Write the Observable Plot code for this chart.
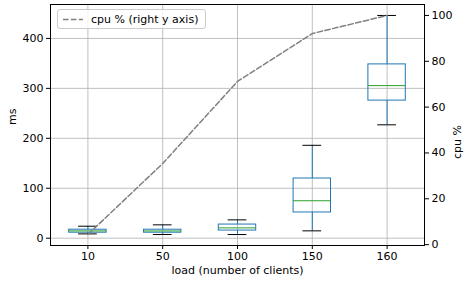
<!DOCTYPE html>
<html>
<head>
<meta charset="utf-8">
<script src="https://cdn.jsdelivr.net/npm/d3@7"></script>
<script src="https://cdn.jsdelivr.net/npm/@observablehq/plot@0.6"></script>
<style>
  html, body { margin: 0; padding: 0; background: #fff; }
  #wrap { position: relative; width: 464px; height: 283px; overflow: hidden; font-family: "DejaVu Sans", sans-serif; }
  #legend { position: absolute; left: 57px; top: 9px; width: 149px; height: 20px;
    border: 1px solid #cccccc; border-radius: 3px; background: rgba(255,255,255,0.8);
    font-size: 11px; color: #000; box-sizing: border-box; }
  #legend svg { position: absolute; left: 4px; top: 0; }
  #legend span { position: absolute; left: 33px; top: 3px; line-height: 13px; white-space: nowrap; }
</style>
</head>
<body>
<div id="wrap"></div>
<script>
const categories = ["10", "50", "100", "150", "160"];
const whiskerLow  = [8.6, 7.4, 7.3, 14.7, 227];
const q1          = [11, 11, 15.3, 51.5, 275.5];
const median      = [14.6, 14.5, 20.7, 75, 305.5];
const q3          = [17, 17, 27.3, 119.5, 348];
const whiskerHigh = [24, 26.7, 36.7, 186, 446];
const cpu         = [4.4, 35.4, 71.2, 92.1, 100];
const msTicks  = [0, 100, 200, 300, 400];
const cpuTicks = [0, 20, 40, 60, 80, 100];

// matplotlib-style 5% margins
function padded(lo, hi) { const r = hi - lo; return [lo - 0.05 * r, hi + 0.05 * r]; }
const msDomain = padded(d3.min(whiskerLow), d3.max(whiskerHigh));
const cpuDomain = padded(d3.min(cpu), d3.max(cpu));
const cpuToMs = d3.scaleLinear().domain(cpuDomain).range(msDomain);

const boxes = categories.map((c, i) => ({
  c, i: i + 1, lo: whiskerLow[i], q1: q1[i], med: median[i], q3: q3[i], hi: whiskerHigh[i]
}));
const cpuData = categories.map((c, i) => ({ i: i + 1, v: cpuToMs(cpu[i]) }));
const idx = categories.map((c, i) => i + 1);

const blue = "#1f77b4";
const chart = Plot.plot({
  width: 464, height: 283,
  marginLeft: 50, marginRight: 40, marginTop: 4, marginBottom: 38,
  style: { fontFamily: "DejaVu Sans, sans-serif", fontSize: "11px", color: "#000", background: "transparent" },
  x: { domain: [0.5, 5.5] },
  y: { domain: msDomain },
  marks: [
    Plot.gridX(idx, { stroke: "#b0b0b0", strokeOpacity: 1, strokeWidth: 0.8 }),
    Plot.gridY(msTicks, { stroke: "#b0b0b0", strokeOpacity: 1, strokeWidth: 0.8 }),
    // whiskers
    Plot.ruleX(boxes, { x: "i", y1: "q3", y2: "hi", stroke: blue, strokeWidth: 1 }),
    Plot.ruleX(boxes, { x: "i", y1: "lo", y2: "q1", stroke: blue, strokeWidth: 1 }),
    // caps
    Plot.ruleY(boxes, { y: "hi", x1: d => d.i - 0.125, x2: d => d.i + 0.125, stroke: "#000", strokeWidth: 1 }),
    Plot.ruleY(boxes, { y: "lo", x1: d => d.i - 0.125, x2: d => d.i + 0.125, stroke: "#000", strokeWidth: 1 }),
    // boxes
    Plot.rect(boxes, { x1: d => d.i - 0.25, x2: d => d.i + 0.25, y1: "q1", y2: "q3", fill: "none", stroke: blue, strokeWidth: 1 }),
    // medians
    Plot.ruleY(boxes, { y: "med", x1: d => d.i - 0.25, x2: d => d.i + 0.25, stroke: "#2ca02c", strokeWidth: 1 }),
    // cpu line
    Plot.line(cpuData, { x: "i", y: "v", stroke: "#808080", strokeWidth: 1.5, strokeDasharray: "5.5,2.4" }),
    Plot.frame({ stroke: "#000", strokeWidth: 1 }),
    Plot.axisX(idx, { tickSize: 4, tickPadding: 3, tickFormat: d => categories[d - 1], label: null }),
    Plot.axisY(msTicks, { anchor: "left", tickSize: 4, tickPadding: 3, label: null }),
    Plot.axisY(cpuTicks.map(t => cpuToMs(t)), { anchor: "right", tickSize: 4, tickPadding: 3, label: null,
      tickFormat: d => String(Math.round(cpuToMs.invert(d))) }),
    Plot.text(["load (number of clients)"], { frameAnchor: "bottom", dy: 28, text: d => d, fill: "#000" }),
    Plot.text(["ms"], { frameAnchor: "left", dx: -38, rotate: -90, text: d => d, fill: "#000" }),
    Plot.text(["cpu %"], { frameAnchor: "right", dx: 33, rotate: -90, text: d => d, fill: "#000" })
  ]
});

const wrap = document.getElementById("wrap");
wrap.appendChild(chart);
const legend = document.createElement("div");
legend.id = "legend";
legend.innerHTML = '<svg width="24" height="18"><line x1="1" x2="21" y1="9.5" y2="9.5" stroke="#808080" stroke-width="1.5" stroke-dasharray="5.5,2.4"/></svg><span>cpu % (right y axis)</span>';
wrap.appendChild(legend);
</script>
</body>
</html>
